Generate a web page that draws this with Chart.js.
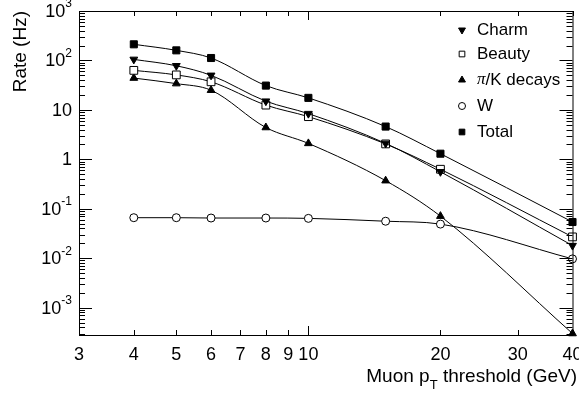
<!DOCTYPE html>
<html>
<head>
<meta charset="utf-8">
<script src="https://cdn.jsdelivr.net/npm/chart.js@4.4.1/dist/chart.umd.min.js"></script>
<style>
  html, body { margin: 0; padding: 0; background: #fff; }
  #wrap { width: 579px; height: 394px; }
</style>
</head>
<body>
<div id="wrap"><canvas id="rateChart" width="579" height="394"></canvas></div>
<script>
// thresholds (GeV) and rates (Hz)
const thresholds = [4, 5, 6, 8, 10, 15, 20, 40];
const charm  = [105, 78, 50, 15, 8.4, 2.1, 0.56, 0.018];
const beauty = [63, 51, 37, 12.5, 7.3, 2.05, 0.63, 0.027];
const piK    = [44, 34, 25, 4.4, 2.1, 0.37, 0.071, 0.0003];
const wBoson = [0.066, 0.066, 0.065, 0.065, 0.064, 0.056, 0.049, 0.0097];
const total  = [212, 160, 112, 31, 17.5, 4.6, 1.3, 0.054];

const xTickValues = [3, 4, 5, 6, 7, 8, 9, 10, 20, 30, 40];
const yDecades = [-3, -2, -1, 0, 1, 2, 3];

const FONT = '"Liberation Sans", Arial, sans-serif';

function pts(ys) {
  return thresholds.map((x, i) => ({ x: x, y: ys[i] }));
}

function series(label, ys, style, rot, fill, radius) {
  return {
    label: label,
    data: pts(ys),
    borderColor: '#000',
    borderWidth: 1,
    pointStyle: style,
    rotation: rot,
    pointRadius: radius,
    pointBorderColor: '#000',
    pointBorderWidth: 1,
    pointBackgroundColor: fill,
    cubicInterpolationMode: 'monotone',
    clip: false
  };
}

const datasets = [
  series('Charm', charm, 'triangle', 180, '#000', 4.5),
  series('Beauty', beauty, 'rect', 0, '#fff', 5.5),
  series('\u03c0/K decays', piK, 'triangle', 0, '#000', 4.5),
  series('W', wBoson, 'circle', 0, '#fff', 4),
  series('Total', total, 'rect', 0, '#000', 5)
];

// ROOT-like frame, inner ticks, labels, titles, legend
const frame = {
  id: 'frame',
  afterDraw(chart) {
    const { ctx, chartArea: a, scales } = chart;
    const xs = scales.x, ys = scales.y;
    ctx.save();
    ctx.strokeStyle = '#000';
    ctx.fillStyle = '#000';
    ctx.lineWidth = 1;
    ctx.strokeRect(a.left + 0.5, a.top + 0.5, a.right - a.left, a.bottom - a.top);

    // x ticks (bottom + top)
    ctx.beginPath();
    xTickValues.forEach(v => {
      const px = Math.round(xs.getPixelForValue(v)) + 0.5;
      const len = v === 10 ? 9 : 5;
      ctx.moveTo(px, a.bottom); ctx.lineTo(px, a.bottom - len);
      ctx.moveTo(px, a.top); ctx.lineTo(px, a.top + len);
    });
    // y ticks (left + right)
    for (let d = -4; d <= 3; d++) {
      for (let m = 1; m <= 9; m++) {
        const v = m * Math.pow(10, d);
        if (v < ys.min || v > ys.max) continue;
        const py = Math.round(ys.getPixelForValue(v)) + 0.5;
        const len = m === 1 ? 13 : 6;
        ctx.moveTo(a.left, py); ctx.lineTo(a.left + len, py);
        ctx.moveTo(a.right, py); ctx.lineTo(a.right - len, py);
      }
    }
    ctx.stroke();

    // x tick labels
    ctx.font = '18px ' + FONT;
    ctx.textAlign = 'center';
    ctx.textBaseline = 'middle';
    xTickValues.forEach(v => {
      ctx.fillText(String(v), xs.getPixelForValue(v), 355);
    });

    // y tick labels with superscript exponents
    ctx.textBaseline = 'middle';
    ctx.textAlign = 'left';
    const right = 72;
    yDecades.forEach(d => {
      const py = ys.getPixelForValue(Math.pow(10, d));
      let base = d === 0 ? '1' : '10';
      let exp = (d === 0 || d === 1) ? '' : String(d);
      ctx.font = '18px ' + FONT;
      const wb = ctx.measureText(base).width;
      ctx.font = '12px ' + FONT;
      const we = exp ? ctx.measureText(exp).width : 0;
      const x0 = right - wb - we;
      ctx.font = '18px ' + FONT;
      ctx.fillText(base, x0, py + 1);
      if (exp) {
        ctx.font = '12px ' + FONT;
        ctx.fillText(exp, x0 + wb, py - 7);
      }
    });

    // y title
    ctx.save();
    ctx.translate(21, a.top);
    ctx.rotate(-Math.PI / 2);
    ctx.font = '19px ' + FONT;
    ctx.textAlign = 'right';
    ctx.textBaseline = 'middle';
    ctx.fillText('Rate (Hz)', 0, 0);
    ctx.restore();

    // x title with subscript T
    ctx.font = '19px ' + FONT;
    ctx.textBaseline = 'middle';
    ctx.textAlign = 'left';
    const p1 = 'Muon p', p3 = ' threshold (GeV)';
    const w1 = ctx.measureText(p1).width;
    const w3 = ctx.measureText(p3).width;
    ctx.font = '13px ' + FONT;
    const w2 = ctx.measureText('T').width;
    let tx = 577 - w1 - w2 - w3;
    const ty = 377;
    ctx.font = '19px ' + FONT;
    ctx.fillText(p1, tx, ty);
    ctx.font = '13px ' + FONT;
    ctx.fillText('T', tx + w1, ty + 8);
    ctx.font = '19px ' + FONT;
    ctx.fillText(p3, tx + w1 + w2, ty);

    // legend
    const rowsY = [30, 54, 80, 106, 132];
    const mx = 462, lx = 477;
    datasets.forEach((ds, i) => {
      const y = rowsY[i];
      ctx.fillStyle = ds.pointBackgroundColor;
      ctx.strokeStyle = '#000';
      Chart.helpers.drawPoint(ctx, {
        pointStyle: ds.pointStyle,
        rotation: ds.rotation,
        radius: ds.pointStyle === 'circle' ? 3.5 : 4,
        borderWidth: 1
      }, mx, y);
      ctx.fillStyle = '#000';
      ctx.font = '17px ' + FONT;
      ctx.textAlign = 'left';
      ctx.textBaseline = 'middle';
      if (i === 2) {
        ctx.font = 'italic 17px "Liberation Serif", serif';
        ctx.fillText('\u03c0', lx, y);
        const wp = ctx.measureText('\u03c0').width;
        ctx.font = '17px ' + FONT;
        ctx.fillText('/K decays', lx + wp, y);
      } else {
        ctx.fillText(ds.label, lx, y);
      }
    });
    ctx.restore();
  }
};

new Chart(document.getElementById('rateChart'), {
  type: 'line',
  data: { datasets: datasets },
  options: {
    responsive: false,
    animation: false,
    layout: { padding: { left: 79, right: 6, top: 11, bottom: 59 } },
    plugins: { legend: { display: false }, tooltip: { enabled: false } },
    scales: {
      x: { type: 'logarithmic', min: 3, max: 40, display: false },
      y: { type: 'logarithmic', min: 2.8e-4, max: 1000, display: false }
    }
  },
  plugins: [frame]
});
</script>
</body>
</html>
